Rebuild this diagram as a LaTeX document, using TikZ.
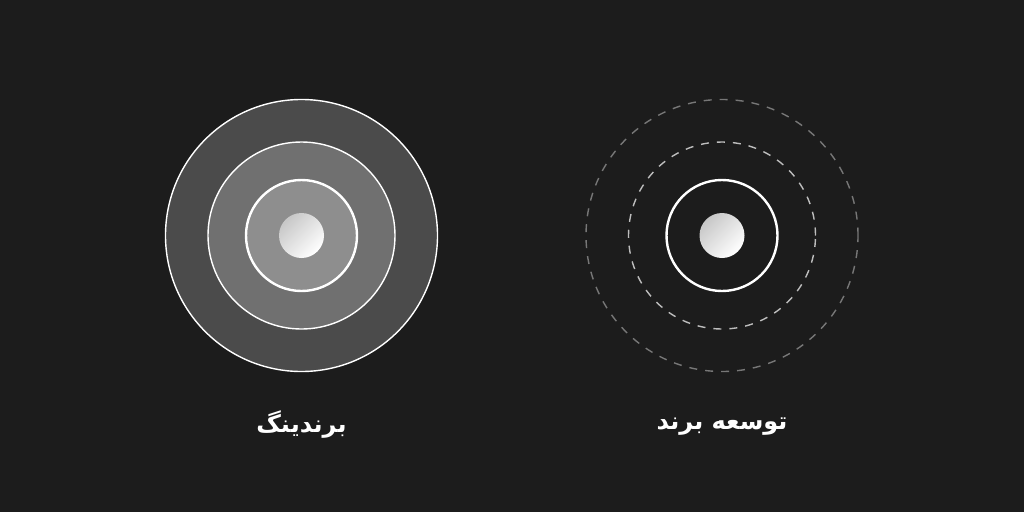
\documentclass[tikz,border=0pt]{standalone}
\usepackage{fontspec}
\newfontfamily\farsifont[Script=Arabic]{DejaVu Sans}
\TeXXeTstate=1
\definecolor{bg}{HTML}{1C1C1C}
\definecolor{ringOut}{HTML}{4B4B4B}
\definecolor{ringMid}{HTML}{707070}
\definecolor{ringIn}{HTML}{8E8E8E}
\definecolor{dashOut}{HTML}{777777}
\definecolor{dashIn}{HTML}{BDBDBD}

\begin{document}
\begin{tikzpicture}[x=1pt, y=-1pt, % 1pt = 1px, y axis downward
    thin ring/.style={draw=white, line width=1.4pt},
    thick ring/.style={draw=white, line width=2.4pt},
    dash ring/.style={line width=1.4pt, dash pattern=on 8pt off 8pt},
    core/.style={top color=white!78!black, bottom color=white, shading angle=45},
    label/.style={text=white, font=\farsifont\bfseries\fontsize{24}{28}\selectfont}]
    \fill[bg] (0,0) rectangle (1024,512); % background

    % left: branding
    \coordinate (brand) at (301.5,235.5);
    \fill[ringOut, thin ring] (brand) circle (136pt);
    \fill[ringMid, thin ring] (brand) circle (93.5pt);
    \fill[ringIn, thick ring] (brand) circle (55.5pt);
    \shade[core] (brand) circle (22.5pt);
    \node[label] (brandText) at (301.5,425) {\beginR برندینگ\endR};

    % right: brand development
    \coordinate (grow) at (722,235.5);
    \draw[dash ring, draw=dashOut] (grow) circle (136pt);
    \draw[dash ring, draw=dashIn] (grow) circle (93.5pt);
    \draw[thick ring] (grow) circle (55.5pt);
    \shade[core] (grow) circle (22.5pt);
    \node[label] (growText) at (722,427) {\beginR توسعه برند\endR};
\end{tikzpicture}
\end{document}
